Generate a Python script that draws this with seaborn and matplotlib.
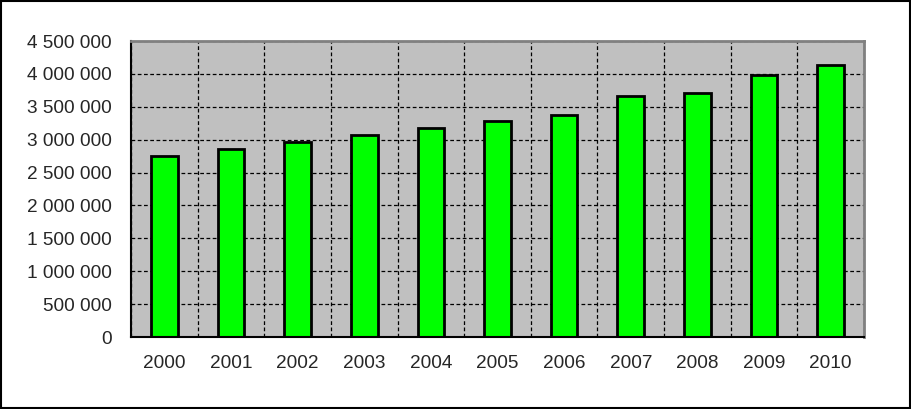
import numpy as np
import pandas as pd
import seaborn as sns
import matplotlib.pyplot as plt
from matplotlib.ticker import FuncFormatter, FixedLocator

# Dados
anos = ["2000", "2001", "2002", "2003", "2004", "2005",
        "2006", "2007", "2008", "2009", "2010"]
valores = [2747000, 2858000, 2959000, 3065000, 3171000, 3282000,
           3368000, 3671000, 3717000, 3979000, 4141000]
yticks = [0, 500000, 1000000, 1500000, 2000000, 2500000,
          3000000, 3500000, 4000000, 4500000]

df = pd.DataFrame({"ano": anos, "valor": valores})

sns.set_style("white")
plt.rcParams["font.family"] = ["Liberation Sans", "DejaVu Sans"]

fig = plt.figure(figsize=(9.12, 4.09), dpi=100)
ax = fig.add_axes([131 / 912, 1 - 337 / 409, (864 - 131) / 912, (337 - 41) / 409])

sns.barplot(data=df, x="ano", y="valor", color="#00ff00", width=0.4,
            edgecolor="black", linewidth=2, saturation=1, ax=ax, zorder=3)

ax.set_facecolor("#c0c0c0")
ax.set_xlim(-0.5, len(anos) - 0.5)
ax.set_ylim(0, 4500000)
ax.set_yticks(yticks)
ax.yaxis.set_major_formatter(FuncFormatter(lambda v, p: f"{int(v):,}".replace(",", " ")))

# ticks e grade nos limites das categorias
ax.xaxis.set_minor_locator(FixedLocator(np.arange(-0.5, len(anos), 1.0)))
ax.tick_params(axis="x", which="major", length=0, pad=13, labelsize=13.7)
ax.tick_params(axis="x", which="minor", length=5, width=1, color="black", direction="out")
ax.tick_params(axis="y", length=5, width=1, color="black", direction="out", labelsize=13.7, pad=9)
ax.grid(axis="y", which="major", color="black", linestyle=(0, (3, 2)), linewidth=0.9, zorder=1)
ax.grid(axis="x", which="minor", color="black", linestyle=(0, (3, 2)), linewidth=0.9, zorder=1)
ax.set_axisbelow(True)

ax.set_xlabel("")
ax.set_ylabel("")
ax.spines["left"].set_color("black")
ax.spines["bottom"].set_color("black")
ax.spines["top"].set_color("#808080")
ax.spines["right"].set_color("#808080")
for s in ax.spines.values():
    s.set_linewidth(2)
    s.set_zorder(4)
ax.spines["left"].set_linewidth(1.5)
ax.spines["bottom"].set_linewidth(1.5)

# moldura externa
fig.patches.append(plt.Rectangle((0.001, 0.002), 0.997, 0.996, transform=fig.transFigure,
                                 fill=False, edgecolor="black", linewidth=1.5))

plt.savefig("out.png", dpi=100)
